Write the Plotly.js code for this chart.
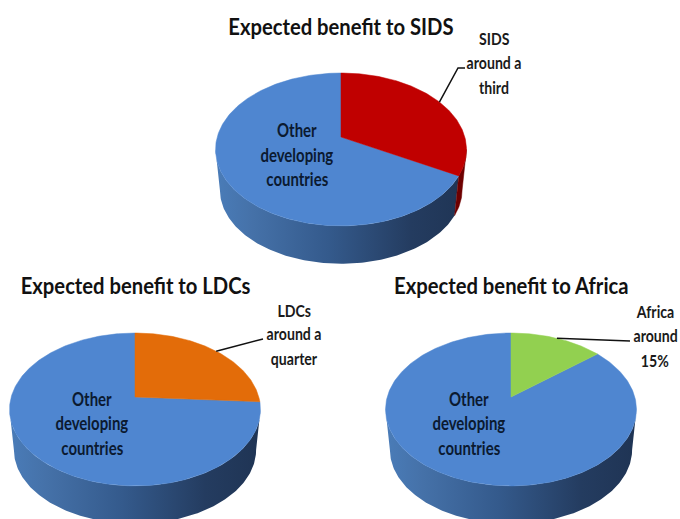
<!DOCTYPE html>
<html>
<head>
<meta charset="utf-8">
<script src="https://cdn.plot.ly/plotly-3.0.1.min.js"></script>
<style>html,body{margin:0;padding:0;background:#fff}#chart{width:680px;height:519px}</style>
</head>
<body>
<div id="chart"></div>
<script>
// ---- data ----
var sidsShare = 33;
var ldcShare = 26;
var africaShare = 14;
var chartTitles = ['Expected benefit to SIDS', 'Expected benefit to LDCs', 'Expected benefit to Africa'];
var groupLabels = [['SIDS', 'around a', 'third'], ['LDCs', 'around a', 'quarter'], ['Africa', 'around', '15%']];
var otherLabel = ['Other', 'developing', 'countries'];
var sliceColors = ['#C00000', '#E36C09', '#92D050'];
var sideColors = ['#6E0000', '#8A4205', '#5A8030'];

// ---- layout of the three tilted pies (page-pixel axes) ----
var shares = [sidsShare, ldcShare, africaShare];
var apexX = [341, 135, 511];
var apexY = [137, 397, 397];
var titleY = [26, 285, 285];
var labelX = [494, 294, 655];
var labelY = [[38, 62, 87], [310, 333, 358], [311, 335, 360]];
var otherX = [297, 92, 469];
var otherY = [[130, 155, 179], [399, 423, 448], [399, 423, 448]];
var leaderEnds = [[[458, 68], [465, 68]], [[258, 340], [263, 339]], [[630, 341]]];
var A = 123.8, B = 74.4, K = 0.163;
var BASE_SCALE = 0.965, BASE_DROP = 41;
var BLUE = '#4F86D0';
var FONT = 'Lato, sans-serif';
var TITLE_SQUEEZE = 0.86, LABEL_SQUEEZE = 0.83;

function project(i, pct) {
  var t = pct / 100 * 2 * Math.PI, X = Math.sin(t), Y = Math.cos(t), w = 1 + K * Y;
  return [apexX[i] + A * X / w, apexY[i] - B * Y / w];
}
function arc(i, from, to, base) {
  var pts = [], n = Math.max(2, Math.round(Math.abs(to - from) * 4));
  for (var j = 0; j <= n; j++) {
    var p = project(i, from + (to - from) * j / n);
    if (base) {
      p = [apexX[i] + (p[0] - apexX[i]) * BASE_SCALE,
           apexY[i] + (p[1] - apexY[i]) * BASE_SCALE + BASE_DROP];
    }
    pts.push(p);
  }
  return pts;
}
function poly(pts, color) {
  return {
    type: 'scatter', mode: 'lines', hoverinfo: 'skip', showlegend: false,
    x: pts.map(function (p) { return p[0]; }), y: pts.map(function (p) { return p[1]; }),
    line: {width: 0.5, color: color}, fill: 'toself', fillcolor: color
  };
}

var traces = [], annotations = [];
var edgePct = (90 + Math.asin(K) * 180 / Math.PI) / 3.6;

shares.forEach(function (share, i) {
  var apex = [apexX[i], apexY[i]];
  // side wall
  var wallFrom = Math.max(edgePct, share), wallTo = 100 - edgePct;
  var wall = arc(i, wallFrom, wallTo, false).concat(arc(i, wallTo, wallFrom, true));
  wall.push(wall[0]);
  traces.push({
    type: 'scatter', mode: 'lines', hoverinfo: 'skip', showlegend: false,
    x: wall.map(function (p) { return p[0]; }), y: wall.map(function (p) { return p[1]; }),
    line: {width: 0},
    fill: 'toself',
    fillgradient: {
      type: 'horizontal',
      start: apexX[i] + 125.5, stop: apexX[i] - 125.5,
      colorscale: [[0, '#1F3454'], [0.22, '#243C60'], [0.55, '#345A8C'], [0.85, '#4571A8'], [1, '#4A7CB8']]
    }
  });
  if (share > edgePct) {
    var side = arc(i, edgePct, share, false).concat(arc(i, share, edgePct, true));
    side.push(side[0]);
    traces.push(poly(side, sideColors[i]));
  }
  // top face
  traces.push(poly([apex].concat(arc(i, share, 100, false)).concat([apex]), BLUE));
  traces.push(poly([apex].concat(arc(i, 0, share, false)).concat([apex]), sliceColors[i]));
  // leader line from the slice midpoint
  var leader = [project(i, share / 2)].concat(leaderEnds[i]);
  traces.push({
    type: 'scatter', mode: 'lines', hoverinfo: 'skip', showlegend: false,
    x: leader.map(function (p) { return p[0]; }), y: leader.map(function (p) { return p[1]; }),
    line: {width: 1.5, color: '#111111'}
  });
  // texts
  annotations.push({
    x: apexX[i], y: titleY[i], xref: 'x', yref: 'y', text: chartTitles[i],
    showarrow: false, font: {family: FONT, size: 23.5, color: '#111111', weight: 'bold'}
  });
  groupLabels[i].forEach(function (line, j) {
    annotations.push({
      x: labelX[i], y: labelY[i][j], xref: 'x', yref: 'y', text: line,
      showarrow: false, font: {family: FONT, size: 17, color: '#1A1A1A', weight: 'bold'}
    });
  });
  otherLabel.forEach(function (line, j) {
    annotations.push({
      x: otherX[i], y: otherY[i][j], xref: 'x', yref: 'y', text: line,
      showarrow: false, font: {family: FONT, size: 18, color: '#0B1A30', weight: 'bold'}
    });
  });
});

Plotly.newPlot('chart', traces, {
  width: 680, height: 519,
  margin: {l: 0, r: 0, t: 0, b: 0},
  paper_bgcolor: '#FFFFFF', plot_bgcolor: '#FFFFFF',
  showlegend: false,
  xaxis: {range: [0, 680], visible: false, fixedrange: true},
  yaxis: {range: [519, 0], visible: false, fixedrange: true},
  annotations: annotations
}, {displayModeBar: false, staticPlot: true}).then(function (gd) {
  // The reference face is narrower than any installed font: condense the real text,
  // and shrink each annotation's invisible box to the condensed width.
  gd.querySelectorAll('.annotation').forEach(function (g) {
    var t = g.querySelector('.annotation-text');
    var rect = g.querySelector('.bg');
    var f = chartTitles.indexOf(t.textContent) >= 0 ? TITLE_SQUEEZE : LABEL_SQUEEZE;
    t.setAttribute('textLength', t.getComputedTextLength() * f);
    t.setAttribute('lengthAdjust', 'spacingAndGlyphs');
    if (rect) {
      var w = parseFloat(rect.getAttribute('width')), x = parseFloat(rect.getAttribute('x')) || 0;
      rect.setAttribute('x', x + w * (1 - f) / 2);
      rect.setAttribute('width', w * f);
    }
  });
});
</script>
</body>
</html>
